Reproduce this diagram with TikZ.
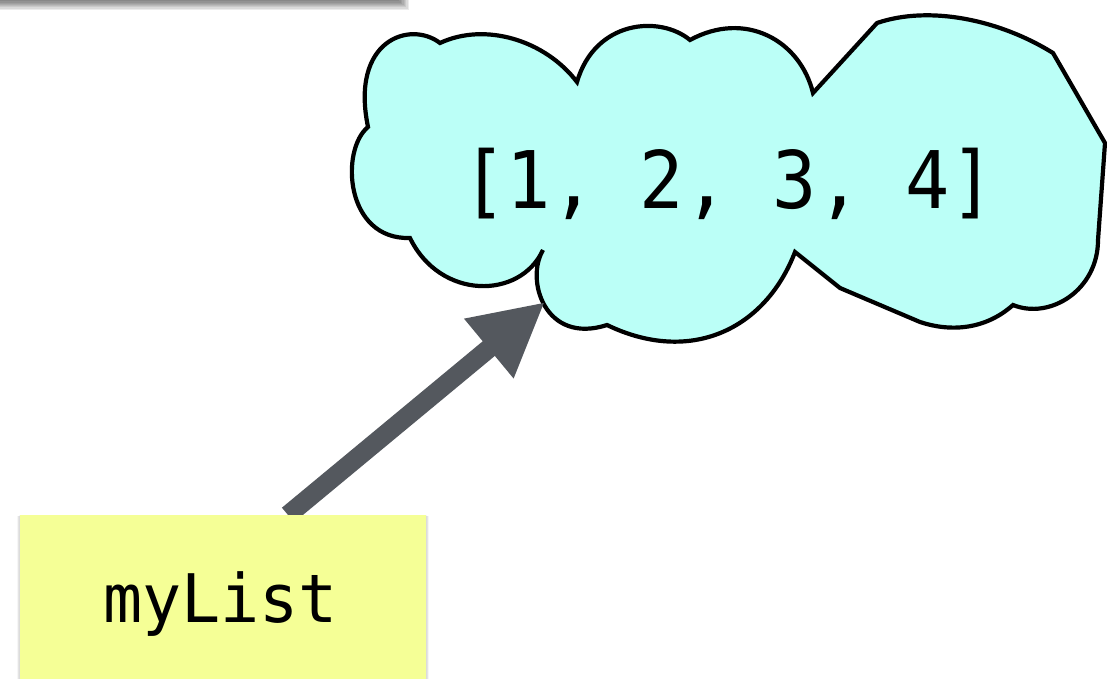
\documentclass[tikz,border=0pt]{standalone}
\usepackage{fontspec}
\usetikzlibrary{arrows.meta}
\newfontfamily\codefont{DejaVu Sans Mono}
\definecolor{cloudfill}{RGB}{187,255,247}
\definecolor{notefill}{RGB}{245,255,150}
\definecolor{arrowgray}{RGB}{84,88,94}
\tikzset{
  cloudshape/.style={draw=black, line width=4.2pt, fill=cloudfill, line join=miter},
  notebox/.style={rectangle, fill=notefill, draw=none, inner sep=0pt},
  pointer/.style={draw=arrowgray, line width=19pt,
    -{Triangle[length=73pt, width=72pt]}},
  codetext/.style={font=\codefont, text=black, inner sep=0pt}
}
\begin{document}
\begin{tikzpicture}[x=1pt, y=-1pt]
\useasboundingbox (0,0) rectangle (1107,679);
\fill[white] (0,0) rectangle (1107,679);

% soft shadow of a box lying just above the top edge
\foreach \i in {1,...,8}
  \fill[black, opacity=0.075] (-30,-60) rectangle (398+1.4*\i, 0.2+1.2*\i);
\fill[white] (-30,-60) rectangle (398,-0.5);

% the list object
\draw[cloudshape] (440,43)
  .. controls (410,20) and (350,40) .. (368,127)
  .. controls (340,150) and (345,240) .. (410,238)
  .. controls (440,300) and (520,300) .. (543,250)
  .. controls (525,280) and (545,345) .. (607,325)
  .. controls (690,365) and (765,330) .. (795,252)
  -- (840,288) -- (920,322)
  .. controls (950,332) and (985,330) .. (1013,305)
  .. controls (1050,320) and (1098,290) .. (1098,240)
  -- (1105,143) -- (1053,53)
  .. controls (1000,20) and (930,5) .. (877,23)
  -- (813,93)
  .. controls (800,40) and (745,10) .. (690,40)
  .. controls (660,15) and (595,20) .. (577,82)
  .. controls (545,40) and (485,22) .. (440,43) -- cycle;
\node[codetext, anchor=base] (listval) at (728.5,208)
  {\scalebox{1}[1.08]{\fontsize{73.6pt}{80pt}\selectfont [1, 2, 3, 4]}};

% the variable note with its faint side shadow
\foreach \i in {1,...,4}
  \fill[black, opacity=0.035] (20-0.8*\i,515+0.3*\i) rectangle (426+0.8*\i,700);
\coordinate (tail) at (288,515);
\coordinate (head) at (545,302);
\draw[pointer] (tail) -- (head);
\node[notebox, minimum width=406pt, minimum height=190pt, anchor=north] (var) at (223,515) {};
\node[codetext, anchor=base] (varname) at (220.5,622)
  {\scalebox{1}[1.03]{\fontsize{65pt}{70pt}\selectfont myList}};
\end{tikzpicture}
\end{document}
